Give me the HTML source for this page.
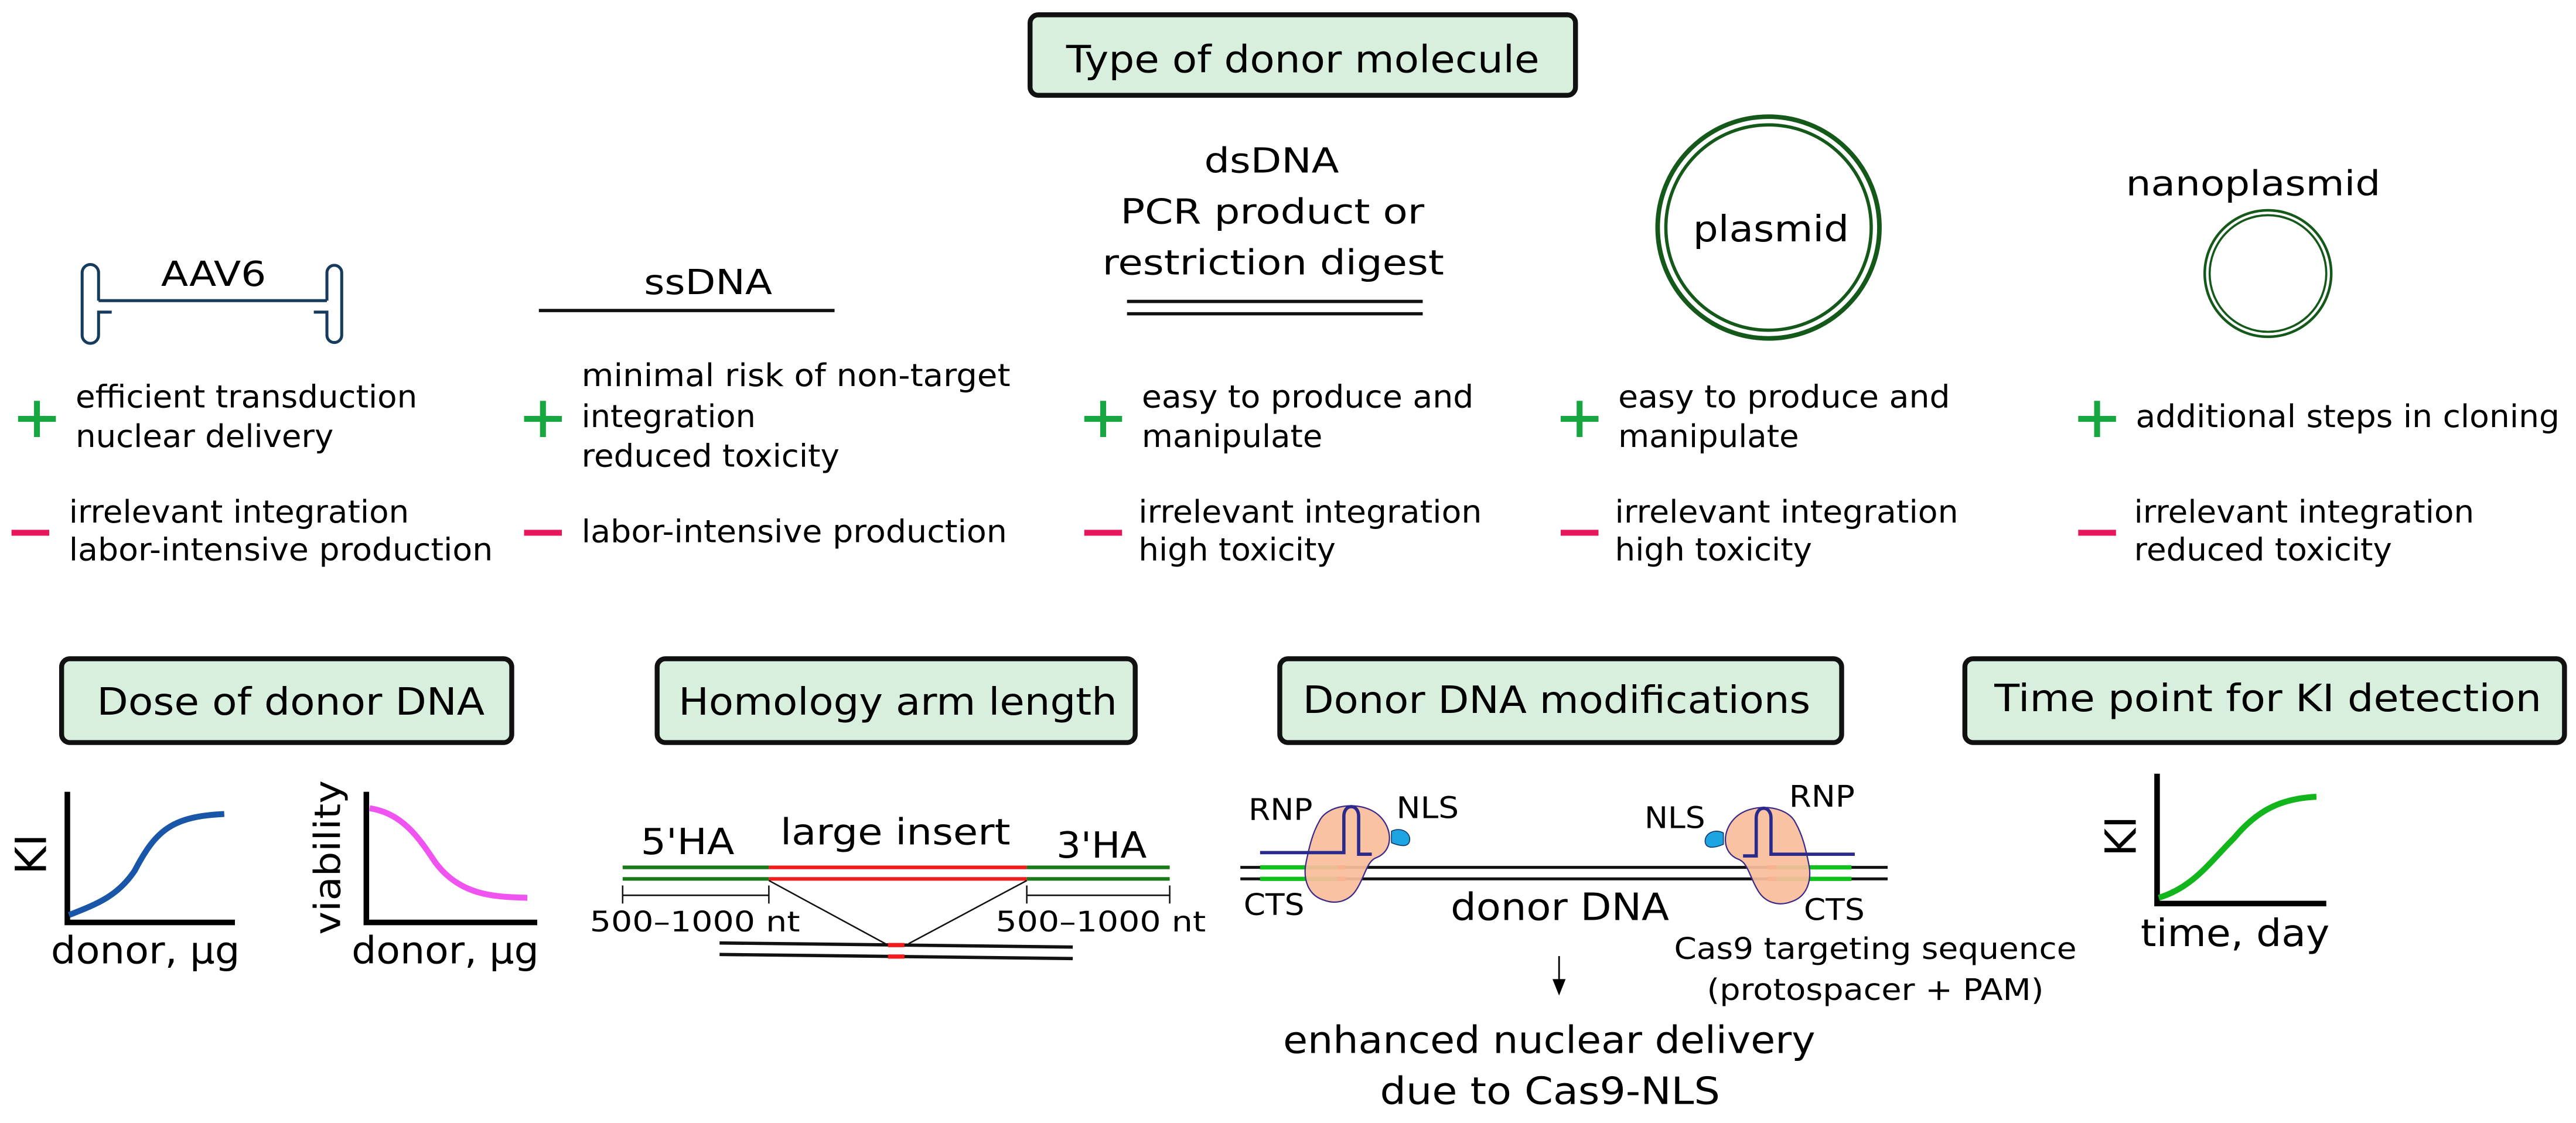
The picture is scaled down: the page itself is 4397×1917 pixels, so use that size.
<!DOCTYPE html>
<html><head><meta charset="utf-8"><style>
html,body{margin:0;padding:0;background:#fff;}
svg{display:block;}
text{font-family:"DejaVu Sans","Liberation Sans",sans-serif;fill:#000;}
</style></head><body>
<svg width="4397" height="1917" viewBox="0 0 1568 683.6" xmlns="http://www.w3.org/2000/svg">
<rect width="1568" height="684" fill="#fff"/>
<g stroke="#111" stroke-width="3" fill="#d7efdc">
<rect x="627" y="9" width="332" height="49" rx="5"/>
<rect x="37.5" y="401" width="274" height="51" rx="5"/>
<rect x="400" y="401" width="291" height="51" rx="5"/>
<rect x="779" y="401" width="342" height="51" rx="5"/>
<rect x="1196" y="401" width="365" height="51" rx="5"/>
</g>
<g font-size="23" lengthAdjust="spacingAndGlyphs">
<text x="649" y="44" textLength="288" lengthAdjust="spacingAndGlyphs">Type of donor molecule</text>
<text x="59" y="435" textLength="236" lengthAdjust="spacingAndGlyphs">Dose of donor DNA</text>
<text x="413" y="435" textLength="267" lengthAdjust="spacingAndGlyphs">Homology arm length</text>
<text x="793" y="434" textLength="309" lengthAdjust="spacingAndGlyphs">Donor DNA modifications</text>
<text x="1214" y="433" textLength="333" lengthAdjust="spacingAndGlyphs">Time point for KI detection</text>
</g>
<!-- AAV6 -->
<g fill="none" stroke="#173b5c" stroke-width="1.8">
<path d="M60,183 L60,166 A5,5 0 0 0 50,166 L50,204 A5,5 0 0 0 60,204 L60,190 L68,190"/>
<path d="M60,183 L199,183"/>
<path d="M199,183 L199,166 A4.5,4.5 0 0 1 208,166 L208,204 A4.5,4.5 0 0 1 199,204 L199,190 L191,190"/>
</g>
<text x="98" y="174" font-size="21" textLength="64" lengthAdjust="spacingAndGlyphs">AAV6</text>
<!-- ssDNA -->
<line x1="328" y1="189" x2="508" y2="189" stroke="#111" stroke-width="2"/>
<text x="392" y="179" font-size="21" textLength="78" lengthAdjust="spacingAndGlyphs">ssDNA</text>
<!-- dsDNA -->
<text x="733" y="105" font-size="21" textLength="82" lengthAdjust="spacingAndGlyphs">dsDNA</text>
<text x="682" y="136" font-size="21" textLength="185" lengthAdjust="spacingAndGlyphs">PCR product or</text>
<text x="671" y="167" font-size="21" textLength="208" lengthAdjust="spacingAndGlyphs">restriction digest</text>
<line x1="686" y1="183.5" x2="866" y2="183.5" stroke="#111" stroke-width="2"/>
<line x1="686" y1="191" x2="866" y2="191" stroke="#111" stroke-width="2"/>
<!-- plasmid -->
<circle cx="1076.5" cy="138.5" r="67.5" fill="none" stroke="#14591a" stroke-width="2.8"/>
<circle cx="1076.5" cy="138.5" r="62.5" fill="none" stroke="#14591a" stroke-width="2"/>
<text x="1030.5" y="147" font-size="22" textLength="95" lengthAdjust="spacingAndGlyphs">plasmid</text>
<text x="1294" y="119" font-size="21" textLength="155" lengthAdjust="spacingAndGlyphs">nanoplasmid</text>
<circle cx="1380.5" cy="166.5" r="38.5" fill="none" stroke="#14591a" stroke-width="1.6"/>
<circle cx="1380.5" cy="166.5" r="35.5" fill="none" stroke="#14591a" stroke-width="1.3"/>
<!-- plus / minus -->
<g stroke="#17a63f" stroke-width="3.6">
<path d="M11,255 H34 M22.5,244 V266"/>
<path d="M319,255 H342 M330.5,244 V266"/>
<path d="M660,255 H683 M671.5,244 V266"/>
<path d="M950,255 H973 M961.5,244 V266"/>
<path d="M1265,255 H1288 M1276.5,244 V266"/>
</g>
<g stroke="#e8175d" stroke-width="3.6">
<path d="M7,324.3 H30"/>
<path d="M319,324.3 H342"/>
<path d="M660,324.3 H683"/>
<path d="M950,324.3 H973"/>
<path d="M1265,324.3 H1288"/>
</g>
<g font-size="19">
<text x="46" y="248" textLength="208" lengthAdjust="spacingAndGlyphs">efficient transduction</text>
<text x="46" y="272" textLength="157" lengthAdjust="spacingAndGlyphs">nuclear delivery</text>
<text x="42" y="318" textLength="207" lengthAdjust="spacingAndGlyphs">irrelevant integration</text>
<text x="42" y="341" textLength="258" lengthAdjust="spacingAndGlyphs">labor-intensive production</text>
<text x="354" y="235" textLength="261" lengthAdjust="spacingAndGlyphs">minimal risk of non-target</text>
<text x="354" y="260" textLength="106" lengthAdjust="spacingAndGlyphs">integration</text>
<text x="354" y="284" textLength="157" lengthAdjust="spacingAndGlyphs">reduced toxicity</text>
<text x="354" y="330" textLength="259" lengthAdjust="spacingAndGlyphs">labor-intensive production</text>
<text x="695" y="248" textLength="202" lengthAdjust="spacingAndGlyphs">easy to produce and</text>
<text x="695" y="272" textLength="110" lengthAdjust="spacingAndGlyphs">manipulate</text>
<text x="693" y="318" textLength="209" lengthAdjust="spacingAndGlyphs">irrelevant integration</text>
<text x="693" y="341" textLength="120" lengthAdjust="spacingAndGlyphs">high toxicity</text>
<text x="985" y="248" textLength="202" lengthAdjust="spacingAndGlyphs">easy to produce and</text>
<text x="985" y="272" textLength="110" lengthAdjust="spacingAndGlyphs">manipulate</text>
<text x="983" y="318" textLength="209" lengthAdjust="spacingAndGlyphs">irrelevant integration</text>
<text x="983" y="341" textLength="120" lengthAdjust="spacingAndGlyphs">high toxicity</text>
<text x="1300" y="260" textLength="258" lengthAdjust="spacingAndGlyphs">additional steps in cloning</text>
<text x="1299" y="318" textLength="207" lengthAdjust="spacingAndGlyphs">irrelevant integration</text>
<text x="1299" y="341" textLength="157" lengthAdjust="spacingAndGlyphs">reduced toxicity</text>
</g>
<!-- Dose plots -->
<g stroke="#000" fill="none">
<path d="M41,482 V561.5 H143" stroke-width="3.4"/>
<path d="M223,482 V561.5 H327" stroke-width="3.4"/>
<path d="M1313,471 V550 H1416" stroke-width="3.4"/>
</g>
<path d="M42,557 C60,550 72,545 82,530 C95,505 105,497 136.5,495.5" fill="none" stroke="#1a56a8" stroke-width="3.6"/>
<path d="M225,492 C245,495 255,510 265,525 C280,545 300,546 321,546.5" fill="none" stroke="#f054f0" stroke-width="3.6"/>
<path d="M1314,546.5 C1335,540 1345,525 1360,510 C1375,492 1390,486 1410,485" fill="none" stroke="#12b51b" stroke-width="3.6"/>
<text transform="translate(28,520) rotate(-90)" text-anchor="middle" font-size="26">KI</text>
<text transform="translate(207,522) rotate(-90)" text-anchor="middle" font-size="22" textLength="94" lengthAdjust="spacingAndGlyphs">viability</text>
<text transform="translate(1300,509) rotate(-90)" text-anchor="middle" font-size="26">KI</text>
<text x="31" y="586.5" font-size="23" textLength="115" lengthAdjust="spacingAndGlyphs">donor, µg</text>
<text x="214" y="586.5" font-size="23" textLength="114" lengthAdjust="spacingAndGlyphs">donor, µg</text>
<text x="1303" y="576" font-size="23" textLength="115" lengthAdjust="spacingAndGlyphs">time, day</text>
<!-- Homology -->
<g stroke-width="2.2">
<path d="M379,528 H468 M379,535 H468 M625,528 H712 M625,535 H712" stroke="#1a7a1a"/>
<path d="M468,528 H625 M468,535 H625" stroke="#f21c1c"/>
</g>
<g stroke="#111" stroke-width="0.9" fill="none">
<path d="M379,545 H468 M379,539 V550 M468,539 V550"/>
<path d="M625,545 H712 M625,539 V550 M712,539 V550"/>
<path d="M468,536 L539,574.5 M625,536 L553,574.5"/>
</g>
<path d="M438,574 L653,576.5 M438,581 L653,583.5" stroke="#111" stroke-width="2"/>
<path d="M540.5,575.3 H550.5 M540.5,582.3 H550.5" stroke="#f21c1c" stroke-width="2.6"/>
<text x="390" y="520" font-size="22" textLength="57" lengthAdjust="spacingAndGlyphs">5'HA</text>
<text x="475" y="514" font-size="22" textLength="140" lengthAdjust="spacingAndGlyphs">large insert</text>
<text x="643" y="522" font-size="22" textLength="55" lengthAdjust="spacingAndGlyphs">3'HA</text>
<text x="359" y="567" font-size="17" textLength="128" lengthAdjust="spacingAndGlyphs">500–1000 nt</text>
<text x="606" y="567" font-size="17" textLength="128" lengthAdjust="spacingAndGlyphs">500–1000 nt</text>
<!-- Donor DNA modifications -->
<path d="M755,528 H1149 M755,535 H1149" stroke="#111" stroke-width="1.8"/>
<path d="M767,528 H814 M767,535 H814 M1081,528 H1127 M1081,535 H1127" stroke="#12c21c" stroke-width="2.6"/>
<path d="M814,528 H819 M814,535 H819 M1076,528 H1081 M1076,535 H1081" stroke="#f21c1c" stroke-width="2.6"/>
<g id="rnp">
<path d="M803,500 C808,489 830,487 840,497 C848,505 848,518 838,522 C832,524 831,533 826,541 C822,548 814,551 806,548 C796,545 793,535 795,525 C797,515 799,507 803,500 Z" fill="#f9bd9b" fill-opacity="0.93" stroke="#3a2a8c" stroke-width="0.8"/>
<path d="M767,519 L818,519 L818,497 C818,489 827,489 827,497 L827,520 L835,520" fill="none" stroke="#2a2a8c" stroke-width="2"/>
<path d="M847,506 C853,503 859,507 858,512 C857,516 852,515 847,513 Z" fill="#1ca5e0" stroke="#1a3a6c" stroke-width="0.6"/>
</g>
<use href="#rnp" transform="translate(1896,1) scale(-1,1)"/>
<g font-size="18">
<text x="760" y="499" textLength="39" lengthAdjust="spacingAndGlyphs">RNP</text>
<text x="850" y="498" textLength="38" lengthAdjust="spacingAndGlyphs">NLS</text>
<text x="1001" y="504" textLength="37" lengthAdjust="spacingAndGlyphs">NLS</text>
<text x="1089" y="491" textLength="40" lengthAdjust="spacingAndGlyphs">RNP</text>
<text x="757" y="557" textLength="37" lengthAdjust="spacingAndGlyphs">CTS</text>
<text x="1098" y="560" textLength="37" lengthAdjust="spacingAndGlyphs">CTS</text>
<text x="1019" y="583.7" textLength="245" lengthAdjust="spacingAndGlyphs">Cas9 targeting sequence</text>
<text x="1039" y="608.8" textLength="205" lengthAdjust="spacingAndGlyphs">(protospacer + PAM)</text>
</g>
<text x="883" y="560" font-size="23" textLength="133" lengthAdjust="spacingAndGlyphs">donor DNA</text>
<line x1="949" y1="582" x2="949" y2="598" stroke="#000" stroke-width="1"/>
<path d="M945,596 L953,596 L949,606 Z" fill="#000"/>
<text x="781" y="641" font-size="23" textLength="324" lengthAdjust="spacingAndGlyphs">enhanced nuclear delivery</text>
<text x="840" y="672" font-size="23" textLength="207" lengthAdjust="spacingAndGlyphs">due to Cas9-NLS</text>
</svg>
</body></html>
